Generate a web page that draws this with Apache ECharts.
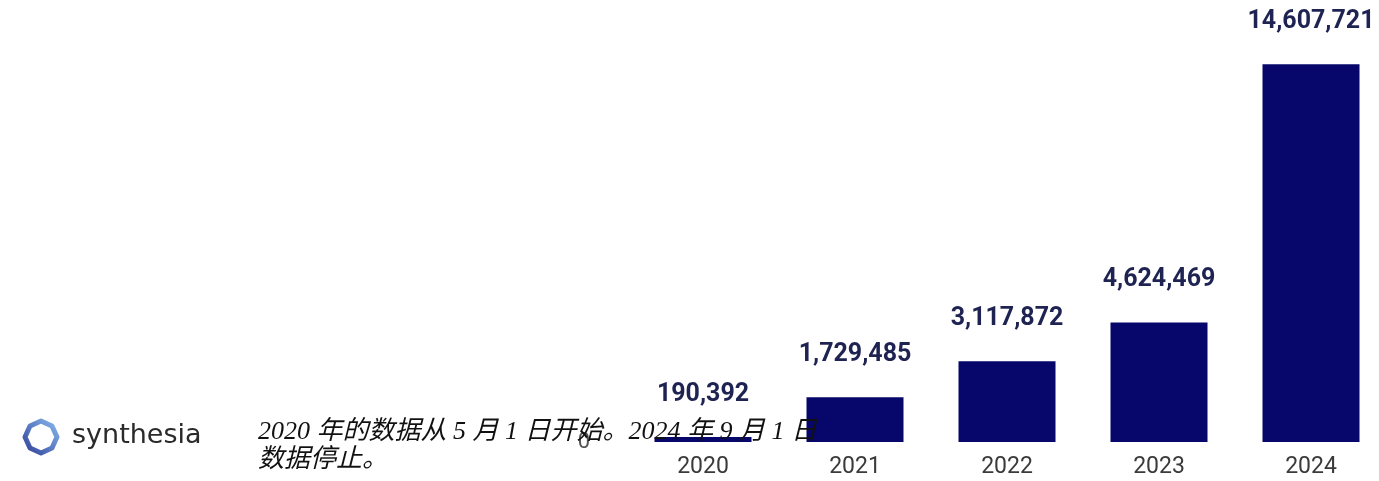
<!DOCTYPE html>
<html>
<head>
<meta charset="utf-8">
<script src="https://cdn.jsdelivr.net/npm/echarts@6/dist/echarts.min.js"></script>
<style>
  html, body { margin: 0; padding: 0; background: #fff; }
  #main { width: 1379px; height: 481px; }
</style>
</head>
<body>
<div id="main"></div>
<script>
// 数据
var years = ['2020', '2021', '2022', '2023', '2024'];
var users = [190392, 1729485, 3117872, 4624469, 14607721];
var yTicks = [0, 15000000];

var note = '2020 年的数据从 5 月 1 日开始。2024 年 9 月 1 日\n数据停止。';

var myChart = echarts.init(document.getElementById('main'));

myChart.setOption({
  backgroundColor: '#ffffff',
  animation: false,
  grid: { left: 627, width: 760, top: 54, bottom: 39, outerBoundsMode: 'none', containLabel: false },
  xAxis: {
    type: 'category',
    data: years,
    axisLine: { show: false },
    axisTick: { show: false },
    axisLabel: {
      color: '#3a3a3a',
      fontSize: 23,
      fontFamily: 'Roboto',
      margin: 14
    }
  },
  yAxis: {
    type: 'value',
    min: yTicks[0],
    max: yTicks[1],
    interval: yTicks[1],
    splitLine: { show: false },
    axisLine: { show: false },
    axisTick: { show: false },
    axisLabel: {
      color: '#555',
      fontSize: 22,
      fontFamily: 'Roboto',
      margin: 37,
      formatter: function (v) { return v === 0 ? '0' : ''; }
    }
  },
  series: [{
    type: 'bar',
    data: users,
    barWidth: 97,
    itemStyle: { color: '#07076b' },
    label: {
      show: true,
      position: 'top',
      distance: 30,
      color: '#1e2352',
      fontSize: 25,
      fontWeight: 'bold',
      fontFamily: 'Roboto',
      formatter: function (p) { return p.value.toLocaleString('en-US'); }
    }
  }],
  graphic: [
    {
      type: 'polygon',
      shape: {
        points: [[41, 421], [52, 426], [57, 437], [52, 448], [41, 453], [30, 448], [25, 437], [30, 426]]
      },
      style: {
        fill: null,
        lineWidth: 5,
        lineJoin: 'round',
        stroke: new echarts.graphic.LinearGradient(1, 0, 0, 1, [
          { offset: 0, color: '#8cc0f2' },
          { offset: 1, color: '#2c3a94' }
        ])
      }
    },
    {
      type: 'text',
      left: 72,
      top: 422,
      style: {
        text: 'synthesia',
        fill: '#2a2a2a',
        font: '27px "DejaVu Sans", sans-serif'
      }
    },
    {
      type: 'text',
      left: 258,
      top: 418,
      z: 10,
      style: {
        text: note,
        fill: '#111',
        font: 'italic 26px "Liberation Serif", "Noto Sans CJK SC", serif',
        lineHeight: 28
      }
    }
  ]
});
</script>
</body>
</html>
